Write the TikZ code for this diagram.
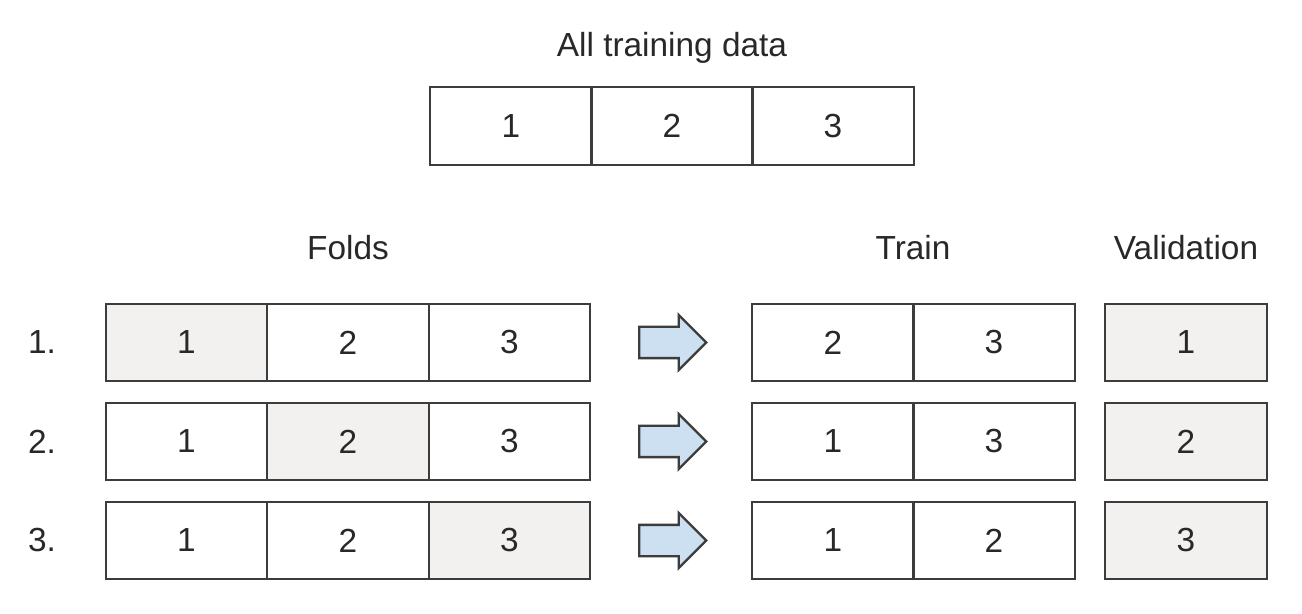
\documentclass[tikz,border=0pt]{standalone}
\usepackage{fontspec}
\setmainfont{Liberation Sans}
\usetikzlibrary{shapes.arrows,positioning}
\definecolor{edgegray}{RGB}{60,60,60}
\definecolor{textgray}{RGB}{40,40,40}
\definecolor{heldgray}{RGB}{242,241,240}
\definecolor{arrowblue}{RGB}{204,224,242}

\begin{document}
\begin{tikzpicture}[
    every node/.style={font=\fontsize{19}{23}\selectfont, text=textgray},
    cell/.style={rectangle, draw=edgegray, line width=1.1pt,
                 minimum width=3.23cm, minimum height=1.55cm, inner sep=0pt},
    label/.style={inner sep=0pt},
    blockarr/.style={single arrow, draw=edgegray, line width=1.3pt, fill=arrowblue,
                 minimum height=1.34cm, inner xsep=0pt, inner ysep=0.29cm,
                 single arrow head extend=0.24cm}
]
    \useasboundingbox (0,0) rectangle (26.04,-12.28);
    % all data
    \node[label] (all) at (13.44,-0.96) {All training data};
    \foreach \c/\x in {1/10.22,2/13.44,3/16.66}
        \node[cell] (t\c) at (\x,-2.52) {\c};
    % headers
    \node[label] (folds) at (6.96,-4.96) {Folds};
    \node[label] (train) at (18.26,-4.96) {Train};
    \node[label] (valid) at (23.72,-4.96) {Validation};
    % rows
    \foreach \r/\y/\a/\b in {1/-6.85/2/3, 2/-8.83/1/3, 3/-10.81/1/2} {
        \node[label] (n\r) at (0.84,\y) {\r.};
        \foreach \c/\x in {1/3.73,2/6.96,3/10.19} {
            \ifnum\c=\r \def\cellfill{heldgray}\else\def\cellfill{white}\fi
            \node[cell, fill=\cellfill] (f\r\c) at (\x,\y) {\c};
        }
        \node[blockarr] (arr\r) at (13.30,\y) {};
        \node[cell] (tr\r a) at (16.66,\y) {\a};
        \node[cell] (tr\r b) at (19.88,\y) {\b};
        \node[cell, fill=heldgray] (v\r) at (23.72,\y) {\r};
    }
\end{tikzpicture}
\end{document}
